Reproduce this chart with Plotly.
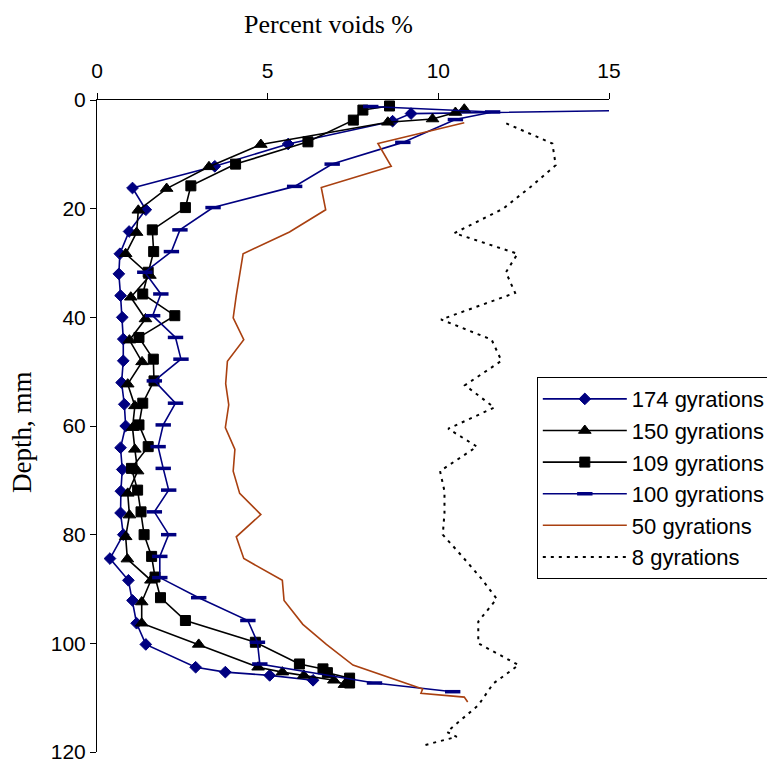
import plotly.graph_objects as go

# ---------------- data (depth in mm, percent voids) ----------------
depth_174 = [1.9, 2.5, 3.9, 8.1, 12.2, 16.2, 20.2, 24.2, 28.3, 32, 36, 40, 44, 48, 52, 56, 60, 64,
             68, 72, 76, 80, 84.4, 88.4, 92.1, 96.3, 100.2, 104.4, 105.3, 105.9, 106.8]
voids_174 = [16.0, 9.2, 8.66, 5.6, 3.45, 1.04, 1.43, 0.94, 0.67, 0.64, 0.69, 0.74, 0.77, 0.77, 0.72, 0.8, 0.84, 0.69,
             0.74, 0.7, 0.69, 0.77, 0.38, 0.92, 1.04, 1.16, 1.43, 2.89, 3.76, 5.06, 6.33]

depth_150 = [1.7, 2.3, 3.5, 4.1, 8.2, 12.3, 16.3, 20.3, 24.4, 28.3, 32.3, 36.3, 40.3, 44.2, 48.2, 52.3, 56.3,
             60.3, 64.3, 68.3, 72.4, 76.4, 80.4, 84.5, 88.4, 92.4, 96.3, 100.2, 104.4, 105.3, 105.9, 106.8, 107.6]
voids_150 = [10.76, 10.5, 9.83, 8.52, 4.8, 3.28, 2.04, 1.21, 1.16, 0.84, 1.55, 0.99, 1.42, 0.95, 1.32, 0.9, 1.11,
             1.04, 1.11, 1.19, 0.9, 0.95, 0.84, 0.89, 1.58, 1.31, 1.31, 2.98, 4.72, 5.43, 6.06, 6.94, 7.25]

depth_109 = [1.1, 1.85, 3.7, 7.7, 11.8, 15.8, 19.8, 23.9, 27.9, 31.7, 35.7, 39.7, 43.7, 47.7, 51.7, 55.8,
             59.8, 63.8, 67.8, 71.8, 75.8, 80.0, 84.0, 87.8, 91.6, 95.8, 99.8, 103.8, 104.7, 105.4, 106.4, 107.3]
voids_109 = [8.57, 7.79, 7.51, 6.18, 4.06, 2.75, 2.59, 1.62, 1.66, 1.5, 1.34, 2.28, 1.23, 1.65, 1.67, 1.34,
             1.23, 1.5, 1.01, 1.19, 1.29, 1.38, 1.6, 1.7, 1.86, 2.59, 4.64, 5.93, 6.62, 6.75, 7.4, 7.4]

depth_100 = [1.2, 2.2, 3.6, 7.8, 11.8, 15.9, 19.8, 23.9, 27.9, 31.7, 35.7, 39.7, 43.7, 47.7, 51.7, 55.8,
             59.8, 63.8, 67.8, 71.8, 75.8, 80.0, 84.0, 87.9, 91.6, 95.8, 99.8, 103.8, 107.3, 108.9]
voids_100 = [8.02, 11.59, 10.5, 8.96, 6.89, 5.79, 3.4, 2.43, 2.18, 1.4, 1.87, 1.63, 2.3, 2.46, 1.68, 2.3,
             1.94, 1.79, 1.94, 2.1, 1.68, 2.1, 1.84, 1.84, 2.98, 4.42, 4.7, 4.77, 8.13, 10.42]

depth_50 = [4.2, 8.0, 12.2, 16.1, 20.2, 24.3, 28.3, 32.0, 36.0, 40.1, 44.1, 48.1, 52.2, 56.1, 60.3, 64.3,
            68.3, 72.4, 76.3, 80.4, 84.4, 88.4, 92.1, 96.5, 100.2, 104.0, 108.4, 109.2, 109.9, 110.8]
voids_50 = [10.76, 8.23, 8.62, 6.57, 6.7, 5.64, 4.28, 4.18, 4.08, 3.99, 4.3, 3.82, 3.77, 3.86, 3.76, 4.04,
            3.99, 4.18, 4.8, 4.08, 4.3, 5.43, 5.48, 6.03, 6.72, 7.5, 9.54, 9.49, 10.76, 10.86]

depth_8 = [4.3, 8.0, 12.0, 16.0, 20.0, 24.5, 28.3, 31.7, 35.5, 40.4, 44.1, 48.0, 52.5, 56.6, 60.5, 63.8,
           68.3, 72.0, 76.0, 80.0, 84.0, 88.0, 91.8, 96.0, 100.0, 104.0, 107.4, 111.4, 116.3, 117.2, 118.8]
voids_8 = [11.99, 13.34, 13.44, 12.7, 11.9, 10.47, 12.32, 11.98, 12.25, 10.08, 11.56, 11.85, 10.78, 11.64, 10.29, 11.13,
           10.05, 10.18, 10.18, 10.13, 10.7, 11.25, 11.71, 11.17, 11.17, 12.35, 11.61, 11.17, 10.25, 10.54, 9.56]

x_ticks = [0, 5, 10, 15]
y_ticks = [0, 20, 40, 60, 80, 100, 120]

x_title = "Percent voids %"
y_title = "Depth, mm"

NAVY = "#000080"
BROWN = "#A94010"
SERIF = "Liberation Serif, Times New Roman, serif"
SANS = "Liberation Sans, Arial, sans-serif"

fig = go.Figure()

fig.add_trace(go.Scatter(
    x=voids_174, y=depth_174, name="174 gyrations", mode="lines+markers",
    line=dict(color=NAVY, width=1.6),
    marker=dict(symbol="diamond", size=9, color=NAVY, line=dict(color=NAVY, width=1)),
))
fig.add_trace(go.Scatter(
    x=voids_150, y=depth_150, name="150 gyrations", mode="lines+markers",
    line=dict(color="black", width=1.6),
    marker=dict(symbol="triangle-up", size=11, color="black", line=dict(color="black", width=1)),
))
fig.add_trace(go.Scatter(
    x=voids_109, y=depth_109, name="109 gyrations", mode="lines+markers",
    line=dict(color="black", width=1.6),
    marker=dict(symbol="square", size=10, color="black", line=dict(color="black", width=1)),
))
fig.add_trace(go.Scatter(
    x=voids_100, y=depth_100, name="100 gyrations", mode="lines+markers",
    line=dict(color=NAVY, width=1.6),
    marker=dict(symbol="line-ew", size=11, color=NAVY, line=dict(color=NAVY, width=3.5)),
))
fig.add_trace(go.Scatter(
    x=voids_50, y=depth_50, name="50 gyrations", mode="lines",
    line=dict(color=BROWN, width=1.6),
))
fig.add_trace(go.Scatter(
    x=voids_8, y=depth_8, name="8 gyrations", mode="lines",
    line=dict(color="black", width=2, dash="3px,5px"),
))

# page has an 8px body margin, so the figure is sized to the visible 767x757 area
fig.update_layout(
    width=767, height=757,
    margin=dict(l=89, r=166, t=92, b=13, autoexpand=False),
    paper_bgcolor="white", plot_bgcolor="white",
    font=dict(family=SANS, size=21, color="black"),
    showlegend=True,
    legend=dict(
        x=0.859, y=0.575, xanchor="left", yanchor="top",
        bgcolor="white", bordercolor="black", borderwidth=1,
        font=dict(family=SANS, size=22, color="black"),
        itemwidth=84, tracegroupgap=0,
    ),
    xaxis=dict(
        side="top", range=[0, 15], tickvals=x_ticks, ticktext=[str(v) for v in x_ticks],
        showgrid=False, zeroline=False, showline=True, linecolor="black", linewidth=1,
        ticks="outside", ticklen=6, tickcolor="black", automargin=False,
        ticklabelstandoff=7,
    ),
    yaxis=dict(
        range=[120, 0], tickvals=y_ticks, ticktext=[str(v) for v in y_ticks],
        showgrid=False, zeroline=False, showline=True, linecolor="black", linewidth=1,
        ticks="outside", ticklen=6, tickcolor="black", automargin=False,
    ),
    annotations=[
        dict(text=x_title, xref="paper", yref="paper", x=(328 - 97) / 512, y=1 + (100 - 24) / 652,
             xanchor="center", yanchor="middle", showarrow=False, borderpad=0,
             font=dict(family=SERIF, size=26, color="black")),
        dict(text=y_title, xref="paper", yref="paper", x=(22 - 97) / 512, y=1 - (432 - 100) / 652,
             xanchor="center", yanchor="middle", showarrow=False, textangle=-90,
             font=dict(family=SERIF, size=27, color="black")),
    ],
)

fig.write_html("out.html")
